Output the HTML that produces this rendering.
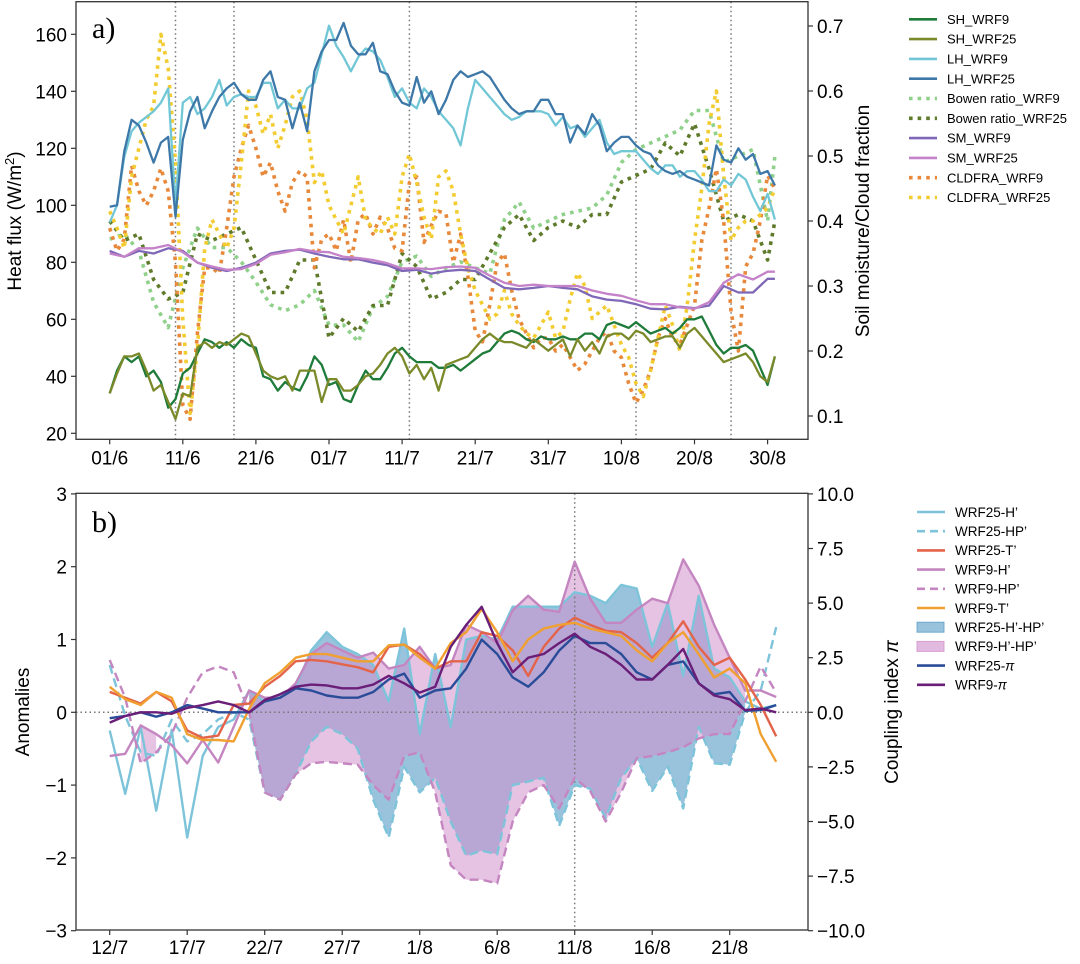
<!DOCTYPE html>
<html><head><meta charset="utf-8"><style>
body{margin:0;background:#fff;}
svg text{font-family:"Liberation Sans",sans-serif;fill:#000;}
</style></head><body>
<svg id="chart" width="1080" height="959" viewBox="0 0 1080 959" xmlns="http://www.w3.org/2000/svg">
<g id="pa"></g>
<g id="pb"></g>
<g id="leg"></g>
</svg>
<script>
// ---------- Panel a data ----------
const daysA = [];
for (let i = 0; i <= 91; i++) daysA.push(i);
const days2 = [0,2,4,6,8,10,12,14,16,18,20,22,24,26,28,30,32,34,36,38,40,42,44,46,48,50,52,54,56,58,60,62,64,66,68,70,72,74,76,78,80,82,84,86,88,90,91];
const xTickLabelsA = ["01/6","11/6","21/6","01/7","11/7","21/7","31/7","10/8","20/8","30/8"];
const xTickDaysA = [0,10,20,30,40,50,60,70,80,90];
const leftTicksA = [20,40,60,80,100,120,140,160];
const rightTicksA = [0.1,0.2,0.3,0.4,0.5,0.6,0.7];
const eventDaysA = [9,17,41,72,85];
const sh9 = [34,42,47,45,47,40,42,38,29,32,41,43,48,53,52,50,52,50,53,51,50,40,39,35,38,36,35,40,47,44,37,38,32,31,37,42,39,39,43,48,50,47,45,45,45,43,43,44,42,44,46,48,49,52,55,56,55,53,52,54,53,53,54,53,53,55,55,53,58,59,58,57,59,57,55,56,57,55,57,60,60,61,56,51,48,50,50,51,49,43,37,47];
const sh25 = [34,41,47,47,48,42,35,37,31,25,34,33,50,52,50,52,51,53,55,54,48,42,40,39,40,35,42,42,42,31,39,39,35,35,37,40,41,44,48,50,47,41,44,39,43,35,44,45,46,47,50,53,55,53,52,52,51,50,53,51,49,51,53,47,53,49,52,48,54,55,55,53,56,55,52,53,54,54,50,55,57,54,51,48,45,46,47,48,45,40,38,47];
const lh9 = [94,100,117,126,129,131,133,136,141,100,136,138,132,134,138,144,135,138,139,138,138,143,143,134,137,134,134,141,143,153,163,156,152,147,152,155,154,151,145,138,141,136,134,141,138,133,130,127,121,134,144,141,138,135,132,130,131,133,133,133,132,128,131,127,128,124,127,130,122,118,119,119,119,116,113,111,114,114,110,112,112,109,105,105,109,107,111,109,103,98,104,95];
const lh25 = [99.5,100,119,130,128,122,115,122,124,96,123,133,138,127,133,138,141,143,139,137,137,144,147,138,137,127,136,126,147,154,158,158,164,156,153,153,157,147,146,140,136,135,145,136,140,132,137,144,147,145,146,147,145,141,137,134,132,133,133,137,137,132,132,122,128,125,132,128,119,122,124,124,121,119,118,114,112,111,112,110,109,108,107,121,116,115,120,116,118,111,112,107];
const bowen9 = [.372,.38,.354,.275,.236,.328,.389,.359,.359,.337,.306,.271,.262,.271,.293,.24,.24,.214,.267,.284,.337,.346,.315,.328,.337,.328,.319,.402,.429,.389,.40,.41,.415,.42,.44,.49,.51,.52,.53,.54,.57,.57,.49,.50,.51,.40,.50];
const bowen25 = [.40,.37,.38,.31,.28,.29,.38,.37,.38,.39,.34,.29,.29,.34,.34,.22,.25,.23,.27,.27,.35,.33,.28,.29,.31,.31,.35,.39,.41,.37,.39,.40,.39,.41,.41,.46,.47,.48,.52,.50,.55,.48,.40,.41,.40,.34,.40];
const sm9 = [.354,.345,.354,.350,.358,.354,.336,.328,.323,.328,.336,.350,.354,.356,.350,.345,.341,.341,.336,.332,.323,.325,.319,.323,.325,.323,.310,.297,.295,.297,.30,.297,.295,.284,.279,.277,.272,.265,.264,.268,.266,.27,.30,.29,.29,.311,.311];
const sm25 = [.350,.345,.358,.358,.363,.352,.336,.330,.325,.326,.334,.348,.352,.357,.353,.352,.345,.343,.340,.335,.327,.327,.326,.329,.330,.328,.316,.305,.300,.302,.30,.30,.30,.293,.288,.285,.278,.272,.272,.267,.265,.275,.305,.318,.310,.322,.322];
const cld9 = [.389,.354,.372,.485,.446,.424,.446,.481,.446,.336,.117,.095,.227,.328,.328,.319,.389,.468,.512,.547,.512,.468,.490,.446,.415,.459,.477,.468,.328,.372,.380,.354,.402,.336,.402,.411,.380,.406,.389,.358,.354,.459,.468,.367,.393,.415,.411,.336,.380,.315,.231,.214,.271,.336,.350,.293,.249,.227,.205,.22,.22,.20,.21,.19,.17,.18,.20,.22,.23,.20,.19,.15,.12,.14,.17,.22,.25,.22,.21,.24,.27,.37,.42,.48,.40,.26,.20,.33,.35,.40,.47,.45];
const cld25 = [.415,.389,.358,.468,.512,.556,.577,.687,.635,.490,.249,.104,.205,.358,.402,.380,.358,.389,.490,.600,.577,.534,.564,.512,.547,.591,.600,.556,.459,.477,.424,.402,.380,.424,.468,.402,.389,.380,.406,.380,.468,.503,.459,.406,.372,.468,.477,.446,.380,.328,.293,.271,.249,.257,.293,.257,.240,.227,.22,.24,.26,.22,.23,.28,.32,.30,.25,.26,.27,.24,.21,.19,.15,.13,.17,.22,.27,.24,.20,.27,.37,.45,.55,.60,.47,.37,.39,.40,.40,.41,.42,.45];

// ---------- Panel b data ----------
const daysB = [];
for (let i = 0; i <= 43; i++) daysB.push(i);
const xTickLabelsB = ["12/7","17/7","22/7","27/7","1/8","6/8","11/8","16/8","21/8"];
const xTickDaysB = [0,5,10,15,20,25,30,35,40];
const leftTicksB = [-3,-2,-1,0,1,2,3];
const rightTicksB = [-10,-7.5,-5,-2.5,0,2.5,5,7.5,10];
const h25 = [-0.25,-1.12,-0.2,-1.35,-0.24,-1.72,-0.6,-0.2,-0.1,0.3,0.15,0.25,0.35,0.85,1.1,0.9,0.8,0.65,0.15,1.15,-0.3,0.8,-0.2,1.0,1.05,1.0,1.45,1.45,1.45,1.45,1.65,1.6,1.5,1.75,1.7,0.9,1.5,0.5,1.6,0.6,0.48,0.15,0.05,0.1];
const hp25 = [0.65,-0.05,-0.55,-0.6,-0.1,-0.4,-0.3,-0.1,0.0,-0.1,-1.1,-1.2,-0.85,-0.4,-0.2,-0.3,-0.5,-1.2,-1.72,-0.75,-1.1,-0.9,-1.5,-1.97,-1.9,-1.95,-1.0,-0.95,-0.9,-1.56,-1.0,-1.05,-1.45,-0.9,-0.63,-1.08,-0.75,-1.32,-0.2,-0.7,-0.72,0.0,0.3,1.17];
const h9 = [-0.6,-0.57,-0.18,-0.3,-0.45,-0.7,-0.38,-0.69,-0.2,0.3,0.2,0.2,0.4,0.8,0.95,0.85,0.75,0.82,0.6,0.65,0.9,0.6,0.65,1.2,1.1,0.95,1.4,1.6,1.41,1.38,2.07,1.56,1.23,1.23,1.41,1.56,1.5,2.1,1.74,1.2,0.75,0.3,0.3,0.21];
const hp9 = [0.72,0.2,-0.7,-0.55,-0.3,0.2,0.55,0.63,0.55,0.0,-1.1,-1.2,-0.85,-0.7,-0.68,-0.7,-0.72,-1.0,-1.2,-0.6,-0.55,-1.1,-2.1,-2.3,-2.3,-2.35,-1.5,-1.1,-1.0,-1.32,-0.9,-1.08,-1.5,-1.1,-0.63,-0.6,-0.55,-0.48,-0.36,-0.3,-0.3,0.15,0.63,0.27];
const t25 = [0.28,0.2,0.12,0.28,0.15,-0.25,-0.35,-0.32,0.1,0.12,0.35,0.5,0.7,0.72,0.7,0.66,0.62,0.55,0.9,0.93,0.8,0.6,0.7,0.7,1.1,1.05,0.85,0.5,0.9,1.15,1.3,1.2,1.12,1.1,0.95,0.75,0.95,1.25,0.9,0.65,0.75,0.45,0.1,-0.33];
const t9 = [0.35,0.18,0.1,0.28,0.2,-0.3,-0.38,-0.38,-0.4,0.05,0.4,0.55,0.75,0.8,0.8,0.75,0.7,0.7,0.92,0.93,0.75,0.6,0.95,1.1,1.42,1.1,0.7,1.0,1.15,1.2,1.23,1.15,1.1,1.05,0.85,0.7,0.95,1.1,0.8,0.48,0.6,0.4,-0.3,-0.68];
const pi25 = [-0.27,-0.17,0,-0.2,0,0.33,0.17,0,0,0,0.5,0.67,1.1,1.0,0.77,0.67,0.67,0.93,1.5,1.77,0.67,1.0,1.1,2.0,3.33,2.67,1.6,1.17,1.83,2.83,3.5,3.17,3.17,2.67,1.83,1.5,2.17,2.33,1.33,0.83,0.93,0.07,0.1,0.33];
const pi9 = [-0.47,-0.17,0,0,-0.07,0.2,0.33,0.5,0.33,0,0.57,0.83,1.17,1.27,1.23,1.1,1.1,1.27,1.67,1.33,0.9,1.17,3.0,4.0,4.83,3.17,1.83,2.5,2.67,3.17,3.6,3.0,2.67,2.17,1.5,1.5,2.17,2.9,1.33,0.77,0.6,0.1,0.17,0.0];

const NS = "http://www.w3.org/2000/svg";
function mk(parent, tag, attrs, text) {
  const e = document.createElementNS(NS, tag);
  for (const k in attrs) e.setAttribute(k, attrs[k]);
  if (text !== undefined) e.textContent = text;
  parent.appendChild(e);
  return e;
}
function fmt(v, dec) {
  const s = Math.abs(v).toFixed(dec);
  return (v < 0 ? "\u2212" : "") + s;
}
function linePath(xs, ys, fx, fy) {
  let d = "";
  for (let i = 0; i < xs.length; i++) d += (i ? "L" : "M") + fx(xs[i]).toFixed(1) + "," + fy(ys[i]).toFixed(1);
  return d;
}

// ---------- axes functions ----------
const AL = 76, AR = 808;
const A_TOP = 1.7, A_BOT = 439.3;
const xa = d => 109.7 + 7.31 * d;
const ya = v => 34.3 + (160 - v) * 2.85;
const yr = r => 26 + (0.7 - r) * 650;
const B_TOP = 493.3, B_BOT = 930;
const xb = d => 109.7 + 15.5 * d;
const yb = a => 712.3 - a * 72.8;
const yp = p => 712.3 - p * 21.84;

// ---------- Panel a ----------
const pa = document.getElementById("pa");
eventDaysA.forEach(d => {
  const l = mk(pa, "line", {x1: xa(d), x2: xa(d), y1: A_TOP, y2: A_BOT, stroke: "#777", "stroke-width": 1.5, "stroke-dasharray": "1.5,3"});
  
  
});
function seriesA(xs, ys, fy, color, name, dotted) {
  const p = mk(pa, "path", {d: linePath(xs, ys, xa, fy), fill: "none", stroke: color, "stroke-width": dotted ? 3.6 : 2.3, "stroke-linejoin": "round"});
  if (dotted) p.setAttribute("stroke-dasharray", "3.6,5");
  
  
}
seriesA(days2, bowen9, yr, "#8fd08a", "bowen-ratio-wrf9-line", true);
seriesA(days2, bowen25, yr, "#5e7a2a", "bowen-ratio-wrf25-line", true);
seriesA(daysA, cld9, yr, "#e8883a", "cldfra-wrf9-line", true);
seriesA(daysA, cld25, yr, "#f2cc30", "cldfra-wrf25-line", true);
seriesA(days2, sm9, yr, "#8068b8", "sm-wrf9-line", false);
seriesA(days2, sm25, yr, "#c482c8", "sm-wrf25-line", false);
seriesA(daysA, lh9, ya, "#72c7d6", "lh-wrf9-line", false);
seriesA(daysA, lh25, ya, "#3d78a8", "lh-wrf25-line", false);
seriesA(daysA, sh9, ya, "#1e7b3a", "sh-wrf9-line", false);
seriesA(daysA, sh25, ya, "#7a8a2a", "sh-wrf25-line", false);

const fa = mk(pa, "rect", {x: AL, y: A_TOP, width: AR - AL, height: A_BOT - A_TOP, fill: "none", stroke: "#333", "stroke-width": 1.3});


leftTicksA.forEach(v => {
  mk(pa, "line", {x1: AL - 5, x2: AL, y1: ya(v), y2: ya(v), stroke: "#333", "stroke-width": 1.2});
  const t = mk(pa, "text", {x: AL - 9, y: ya(v) + 7, "text-anchor": "end", "font-size": 19}, String(v));
  
  
});
rightTicksA.forEach(v => {
  mk(pa, "line", {x1: AR, x2: AR + 5, y1: yr(v), y2: yr(v), stroke: "#333", "stroke-width": 1.2});
  const t = mk(pa, "text", {x: AR + 9, y: yr(v) + 7, "font-size": 19}, v.toFixed(1));
  
  
});
xTickDaysA.forEach((d, i) => {
  mk(pa, "line", {x1: xa(d), x2: xa(d), y1: A_BOT, y2: A_BOT + 5, stroke: "#333", "stroke-width": 1.2});
  const t = mk(pa, "text", {x: xa(d), y: A_BOT + 25, "text-anchor": "middle", "font-size": 19}, xTickLabelsA[i]);
  
  
});
const la = mk(pa, "text", {x: 0, y: 0, "text-anchor": "middle", "font-size": 19, transform: "translate(21,221) rotate(-90)"});
la.innerHTML = 'Heat flux (W/m<tspan dy="-7" font-size="13">2</tspan><tspan dy="7">)</tspan>';


const ra = mk(pa, "text", {x: 0, y: 0, "text-anchor": "middle", "font-size": 19, transform: "translate(869,221) rotate(-90)"}, "Soil moisture/Cloud fraction");


const ta = mk(pa, "text", {x: 92, y: 38, "font-size": 30, style: "font-family:'Liberation Serif',serif"}, "a)");



// ---------- Panel b ----------
const pb = document.getElementById("pb");
function fillRuns(top, bot, color, op, name) {
  let run = [];
  const flush = () => {
    if (run.length >= 2) {
      let d = "";
      run.forEach((i, k) => d += (k ? "L" : "M") + xb(daysB[i]).toFixed(1) + "," + yb(top[i]).toFixed(1));
      for (let k = run.length - 1; k >= 0; k--) d += "L" + xb(daysB[run[k]]).toFixed(1) + "," + yb(bot[run[k]]).toFixed(1);
      const p = mk(pb, "path", {d: d + "Z", fill: color, "fill-opacity": op, stroke: "none"});
      
      
    }
    run = [];
  };
  for (let i = 0; i < daysB.length; i++) {
    if (top[i] >= bot[i]) run.push(i); else flush();
  }
  flush();
}
fillRuns(h25, hp25, "#5a9ec8", 0.62, "wrf25-h-hp-fill");
fillRuns(h9, hp9, "#d290cc", 0.55, "wrf9-h-hp-fill");
const z0 = mk(pb, "line", {x1: AL, x2: AR, y1: yb(0), y2: yb(0), stroke: "#777", "stroke-width": 1.5, "stroke-dasharray": "1.5,3"});


const vb = mk(pb, "line", {x1: xb(30), x2: xb(30), y1: B_TOP, y2: B_BOT, stroke: "#777", "stroke-width": 1.5, "stroke-dasharray": "1.5,3"});


function seriesB(ys, fy, color, name, dashed) {
  const p = mk(pb, "path", {d: linePath(daysB, ys, xb, fy), fill: "none", stroke: color, "stroke-width": 2.4, "stroke-linejoin": "round"});
  if (dashed) p.setAttribute("stroke-dasharray", "9,5");
  
  
}
seriesB(h25, yb, "#7dc4da", "wrf25-h-line", false);
seriesB(hp25, yb, "#7dc4da", "wrf25-hp-line", true);
seriesB(h9, yb, "#c486c0", "wrf9-h-line", false);
seriesB(hp9, yb, "#c486c0", "wrf9-hp-line", true);
seriesB(t25, yb, "#e3644a", "wrf25-t-line", false);
seriesB(t9, yb, "#f0a030", "wrf9-t-line", false);
seriesB(pi25, yp, "#2a4c98", "wrf25-pi-line", false);
seriesB(pi9, yp, "#6a1e78", "wrf9-pi-line", false);

const fb = mk(pb, "rect", {x: AL, y: B_TOP, width: AR - AL, height: B_BOT - B_TOP, fill: "none", stroke: "#333", "stroke-width": 1.3});


leftTicksB.forEach(v => {
  mk(pb, "line", {x1: AL - 5, x2: AL, y1: yb(v), y2: yb(v), stroke: "#333", "stroke-width": 1.2});
  const t = mk(pb, "text", {x: AL - 9, y: yb(v) + 7, "text-anchor": "end", "font-size": 19}, fmt(v, 0));
  
  
});
rightTicksB.forEach(v => {
  mk(pb, "line", {x1: AR, x2: AR + 5, y1: yp(v), y2: yp(v), stroke: "#333", "stroke-width": 1.2});
  const t = mk(pb, "text", {x: AR + 9, y: yp(v) + 7, "font-size": 19}, fmt(v, 1));
  
  
});
xTickDaysB.forEach((d, i) => {
  mk(pb, "line", {x1: xb(d), x2: xb(d), y1: B_BOT, y2: B_BOT + 5, stroke: "#333", "stroke-width": 1.2});
  const t = mk(pb, "text", {x: xb(d), y: B_BOT + 24, "text-anchor": "middle", "font-size": 19}, xTickLabelsB[i]);
  
  
});
const lb = mk(pb, "text", {x: 0, y: 0, "text-anchor": "middle", "font-size": 19, transform: "translate(29,712) rotate(-90)"}, "Anomalies");


const rb = mk(pb, "text", {x: 0, y: 0, "text-anchor": "middle", "font-size": 19, transform: "translate(898,712) rotate(-90)"});
rb.innerHTML = 'Coupling index <tspan font-style="italic">\u03c0</tspan>';


const tb = mk(pb, "text", {x: 92, y: 532, "font-size": 30, style: "font-family:'Liberation Serif',serif"}, "b)");



// ---------- Legends ----------
const leg = document.getElementById("leg");
const legANames = ["SH_WRF9","SH_WRF25","LH_WRF9","LH_WRF25","Bowen ratio_WRF9","Bowen ratio_WRF25","SM_WRF9","SM_WRF25","CLDFRA_WRF9","CLDFRA_WRF25"];
const legAColors = ["#1e7b3a","#7a8a2a","#72c7d6","#3d78a8","#8fd08a","#5e7a2a","#8068b8","#c482c8","#e8883a","#f2cc30"];
const legAStyle = ["s","s","s","s","d","d","s","s","d","d"];
legANames.forEach((n, i) => {
  const y = 19.3 + i * 19.8;
  const g = mk(leg, "g", {});
  
  
  const l = mk(g, "line", {x1: 909, x2: 937, y1: y, y2: y, stroke: legAColors[i], "stroke-width": legAStyle[i] === "d" ? 3.6 : 2.6});
  if (legAStyle[i] === "d") l.setAttribute("stroke-dasharray", "3.6,5");
  mk(g, "text", {x: 947, y: y + 4.6, "font-size": 13}, n);
});
const legBNames = ["WRF25-H\u2019","WRF25-HP\u2019","WRF25-T\u2019","WRF9-H\u2019","WRF9-HP\u2019","WRF9-T\u2019","WRF25-H\u2019-HP\u2019","WRF9-H\u2019-HP\u2019","WRF25-","WRF9-"];
const legBColors = ["#7dc4da","#7dc4da","#e3644a","#c486c0","#c486c0","#f0a030","#5a9ec8","#d290cc","#2a4c98","#6a1e78"];
const legBStyle = ["s","d","s","s","d","s","f","f","s","s"];
legBNames.forEach((n, i) => {
  const y = 512 + i * 19.2;
  const g = mk(leg, "g", {});
  
  
  if (legBStyle[i] === "f") {
    mk(g, "rect", {x: 917, y: y - 5, width: 27, height: 10, fill: legBColors[i], "fill-opacity": 0.62, stroke: legBColors[i], "stroke-opacity": 0.8});
  } else {
    const l = mk(g, "line", {x1: 917, x2: 945, y1: y, y2: y, stroke: legBColors[i], "stroke-width": 2.6});
    if (legBStyle[i] === "d") l.setAttribute("stroke-dasharray", "8,5");
  }
  const t = mk(g, "text", {x: 955, y: y + 4.8, "font-size": 13.5}, n);
  if (i >= 8) { const s = mk(t, "tspan", {"font-style": "italic"}, "\u03c0"); }
});
</script>
</body></html>
